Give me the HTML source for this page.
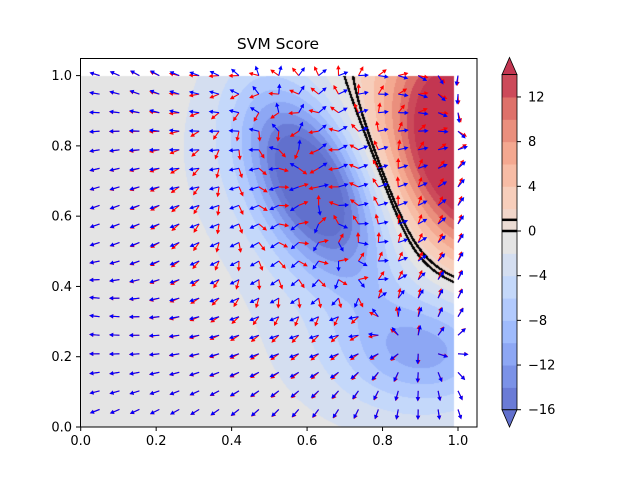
<!DOCTYPE html>
<html><head><meta charset="utf-8"><style>
body{margin:0;background:#fff;width:640px;height:480px;overflow:hidden;font-family:"DejaVu Sans","Liberation Sans",sans-serif}
#wrap{position:relative;width:640px;height:480px}
canvas{position:absolute}
svg{position:absolute;left:0;top:0}
</style></head><body>
<div id="wrap">
<canvas id="fill" width="378" height="352" style="left:80px;top:75px"></canvas>
<svg id="svg" width="640" height="480"></svg>
</div>
<script>
// field components (gaussian bumps approximating the SVM score surface)
const centersX=[0.61,0.55,1.02,0.92,0.85];
const centersY=[0.70,0.60,0.80,0.22,0.20];
const amps=[-18,-3,24,-8,-2];
const sigA=[0.20,0.28,0.22,0.15,0.30];
const sigB=[0.095,0.16,0.13,0.11,0.20];
const angles=[-65,-50,-75,0,0];
const baseline=-0.5;
const levels=[-16,-14,-12,-10,-8,-6,-4,-2,0,1,2,4,6,8,10,12,14];
const lineLevels=[0,1];
const cbTicks=[-16,-12,-8,-4,0,4,8,12];
const xTicks=[0.0,0.2,0.4,0.6,0.8,1.0];
const yTicks=[0.0,0.2,0.4,0.6,0.8,1.0];

const X0=80.7,XS=377.3,Y0=427,YS=351.4;
const sx=v=>X0+v*XS, sy=v=>Y0-v*YS;
function field(x,y){let s=baseline;for(let k=0;k<amps.length;k++){const a=angles[k]*Math.PI/180;const dx=x-centersX[k],dy=y-centersY[k];const p=(dx*Math.cos(a)+dy*Math.sin(a))/sigA[k];const q=(-dx*Math.sin(a)+dy*Math.cos(a))/sigB[k];s+=amps[k]*Math.exp(-(p*p+q*q)/2);}return s;}
const cm=[[0,58,76,192],[.125,98,130,234],[.25,141,176,254],[.375,184,208,249],[.5,221,221,221],[.625,245,196,173],[.75,244,154,123],[.875,222,96,77],[1,180,4,38]];
function cmap(t){t=Math.max(0,Math.min(1,t));for(let i=1;i<cm.length;i++){if(t<=cm[i][0]){const a=cm[i-1],b=cm[i],f=(t-a[0])/(b[0]-a[0]);return [1,2,3].map(j=>Math.round((a[j]+f*(b[j]-a[j]))*0.8+255*0.2));}}return [180,4,38];}
function bandColor(v){let lo=-18,hi=16;for(let i=0;i<levels.length;i++){if(v<levels[i]){hi=levels[i];lo=i>0?levels[i-1]:-18;break;}lo=levels[i];hi=i<levels.length-1?levels[i+1]:16;}const m=(lo+hi)/2;return cmap((m+16)/30);}
// fill
const cv=document.getElementById('fill'),ctx=cv.getContext('2d');
const W=cv.width,H=cv.height,img=ctx.createImageData(W,H);
const TOPY=75;
for(let j=0;j<H;j++)for(let i=0;i<W;i++){const px=80+i+0.5,py=TOPY+j+0.5;const x=(px-X0)/XS,y=(Y0-py)/YS;const o=(j*W+i)*4;if(x<0||x>0.99||y<0||y>1){img.data[o+3]=0;continue;}const v=field(x,y);let c=bandColor(v);const e=1/XS;const gx=(field(x+e,y)-field(x-e,y))/2,gy=(field(x,y+e)-field(x,y-e))/2;const g=Math.hypot(gx,gy)+1e-9;for(const L of lineLevels){if(Math.abs(v-L)/g<1.2)c=[0,0,0];}img.data[o]=c[0];img.data[o+1]=c[1];img.data[o+2]=c[2];img.data[o+3]=255;}
ctx.putImageData(img,0,0);
const svg=document.getElementById('svg'),NS='http://www.w3.org/2000/svg';
function mk(t,a,p){const e=document.createElementNS(NS,t);for(const k in a)e.setAttribute(k,a[k]);(p||svg).appendChild(e);return e;}
// quiver (pivot at tail)
const gq=mk('g',{});


function arrow(x1,y1,ang,col){const L=10.5,ux=Math.cos(ang),uy=-Math.sin(ang);const x2=x1+ux*L,y2=y1+uy*L;const l=mk('line',{x1:x1,y1:y1,x2:x2-ux*3,y2:y2-uy*3,stroke:col,'stroke-width':1.1},gq);const hx=x2-ux*4.2,hy=y2-uy*4.2,nx=-uy*2.2,ny=ux*2.2;const h=mk('polygon',{points:`${x2},${y2} ${hx+nx},${hy+ny} ${hx-nx},${hy-ny}`,fill:col},gq);}
const items=[];
for(let i=0;i<19;i++)for(let j=0;j<19;j++){const x=0.05+i*0.05278,y=0.05+j*0.05278;const e=1e-4;const gx=field(x+e,y)-field(x-e,y),gy=field(x,y+e)-field(x,y-e);const a=Math.atan2(gy*YS,gx*XS);const d=Math.hypot((x-centersX[0])/0.3,(y-centersY[0])/0.4);const rot=Math.PI*Math.exp(-d*d*1.5);items.push([sx(x),sy(y),a,a+rot]);}
items.forEach(t=>arrow(t[0],t[1],t[3],'red'));
items.forEach(t=>arrow(t[0],t[1],t[2],'blue'));
// axes frame
const fr=mk('rect',{x:80.5,y:58.5,width:396.5,height:368.5,fill:'none',stroke:'#000','stroke-width':1});

xTicks.forEach(v=>{const x=sx(v);mk('line',{x1:x,y1:427,x2:x,y2:431,stroke:'#000'});const t=mk('text',{x:x,y:445,'font-size':13,'text-anchor':'middle'});t.textContent=v.toFixed(1);});
yTicks.forEach(v=>{const y=sy(v);mk('line',{x1:76,y1:y,x2:80,y2:y,stroke:'#000'});const t=mk('text',{x:72,y:y+4.5,'font-size':13,'text-anchor':'end'});t.textContent=v.toFixed(1);});
const ti=mk('text',{x:278,y:49,'font-size':15.5,'text-anchor':'middle'});ti.textContent='SVM Score';

// colorbar
const CB0=502,CBW=15,cby=v=>231-v*11.17;
const gcb=mk('g',{});

for(let i=0;i<levels.length-1;i++){const r=mk('rect',{x:CB0,y:cby(levels[i+1]),width:CBW,height:cby(levels[i])-cby(levels[i+1])+0.5,fill:'rgb('+cmap(((levels[i]+levels[i+1])/2+16)/30).join(',')+')'},gcb);}
mk('polygon',{points:`${CB0},${cby(14)} ${CB0+CBW/2},57.5 ${CB0+CBW},${cby(14)}`,fill:'rgb('+cmap(1).join(',')+')',stroke:'#000','stroke-width':0.8},gcb);
mk('polygon',{points:`${CB0},${cby(-16)} ${CB0+CBW/2},427 ${CB0+CBW},${cby(-16)}`,fill:'rgb('+cmap(0).join(',')+')',stroke:'#000','stroke-width':0.8},gcb);
mk('rect',{x:CB0,y:cby(14),width:CBW,height:cby(-16)-cby(14),fill:'none',stroke:'#000','stroke-width':0.8},gcb);
lineLevels.forEach(v=>mk('line',{x1:CB0,x2:CB0+CBW,y1:cby(v),y2:cby(v),stroke:'#000','stroke-width':2.5},gcb));
cbTicks.forEach(v=>{const y=cby(v);mk('line',{x1:CB0+CBW,x2:CB0+CBW+4,y1:y,y2:y,stroke:'#000'},gcb);const t=mk('text',{x:528,y:y+4.5,'font-size':13},gcb);t.textContent=(v<0?'\u2212':'')+Math.abs(v);});
</script>
</body></html>
